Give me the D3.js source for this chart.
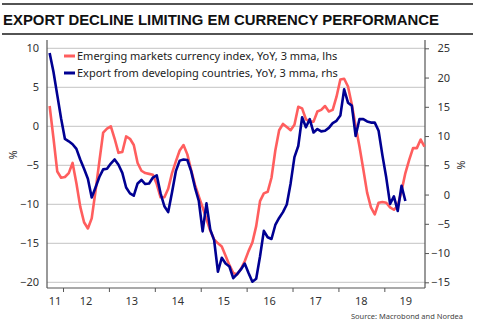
<!DOCTYPE html>
<html lang="en">
<head>
<meta charset="UTF-8">
<title>Export decline limiting EM currency performance</title>
<script src="https://d3js.org/d3.v7.min.js"></script>
<style>
  body { margin: 0; background: #fff; }
  svg text { font-family: "Noto Sans", "DejaVu Sans", sans-serif; }
</style>
</head>
<body>
<script>
    const width = 479;
    const height = 330;

    // monthly series, both start in Sep 2011
    const startYear = 2011, startMonth = 8;

    // Emerging markets currency index, YoY %, 3 mma (lhs), Sep 2011 - Nov 2019
    const emCurrency = [
        2.6, -1.5, -5.8, -6.6,
        -6.5, -6.0, -4.7, -7.3, -10.3, -12.3, -13.1, -11.8, -8.3, -4.5, -0.8, -0.3,
        0.0, -1.6, -3.4, -3.3, -1.3, -1.6, -2.4, -4.7, -5.7, -6.0, -6.1, -6.2,
        -7.4, -9.1, -9.1, -8.0, -6.0, -4.5, -3.1, -2.4, -3.6, -5.6, -7.5, -9.0,
        -10.4, -11.9, -13.4, -14.5, -15.0, -15.4, -16.6, -17.8, -18.8, -19.0, -18.3, -17.3,
        -16.0, -14.9, -12.8, -9.6, -8.6, -8.4, -6.6, -3.1, -0.5, 0.3, -0.1, -0.5,
        0.2, 2.5, 2.3, 0.9, 0.6, 0.6, 1.9, 2.1, 2.6, 1.9, 2.1, 3.8,
        6.0, 6.1, 5.1, 2.8, 0.0, -2.6, -5.5, -8.5, -10.4, -11.3, -9.8, -9.7,
        -9.8, -10.4, -10.7, -10.2, -8.3, -6.0, -4.3, -2.8, -2.8, -1.7, -2.6
    ];

    // Export from developing countries, YoY %, 3 mma (rhs), Sep 2011 - Jun 2019
    const exportsDev = [
        24.2, 21.0, 17.0, 13.0,
        9.5, 9.1, 8.6, 7.8, 6.0, 4.4, 2.7, -0.5, 1.2, 3.0, 4.3, 4.4,
        5.3, 6.0, 5.1, 3.7, 1.2, 0.2, -0.2, 1.9, 2.5, 1.8, 1.9, 2.9,
        3.3, 0.2, -2.0, -3.0, 0.4, 4.0, 5.8, 6.0, 5.9, 4.0, 1.2, -1.1,
        -6.3, -1.5, -6.0, -7.8, -13.2, -10.8, -11.8, -12.3, -14.3, -13.6, -12.8, -11.8,
        -13.4, -14.9, -14.4, -10.6, -6.2, -7.3, -7.6, -5.2, -4.0, -3.0, -1.7, 1.9,
        6.4, 8.3, 13.2, 11.5, 12.9, 10.6, 11.2, 10.8, 10.9, 11.4, 12.2, 12.6,
        13.5, 18.0, 15.7, 15.2, 10.0, 12.9, 12.9, 12.5, 12.3, 12.3, 10.9, 6.7,
        2.9, -1.6, -0.3, -2.8, 1.5, -1.1
    ];

    const years = d3.range(2011, 2020);
    const yearLabels = years.map(y => String(y).slice(2));
    const lhsTicks = [-20, -15, -10, -5, 0, 5, 10];
    const rhsTicks = [-15, -10, -5, 0, 5, 10, 15, 20, 25];
    const legendLabels = [
        "Emerging markets currency index, YoY, 3 mma, lhs",
        "Export from developing countries, YoY, 3 mma, rhs"
    ];
    const colors = ["#ff5e5e", "#000092"];

    const plot = {left: 47, right: 425, top: 48.3, bottom: 282.3, axisTop: 40, axisBottom: 288};

    const svg = d3.select("body").append("svg")
            .attr("width", width).attr("height", height);

    // scales: x in decimal years, two independent y scales
    const x = d3.scaleLinear().domain([2011.651, 2019.886]).range([plot.left, plot.right]);
    const yL = d3.scaleLinear().domain([-20, 10]).range([plot.bottom, plot.top]);
    const yR = d3.scaleLinear().domain([-15, 25]).range([plot.bottom, plot.top]);

    const monthTime = i => startYear + (startMonth + i + 0.5) / 12;

    // title with rules above and below
    svg.append("line").attr("x1", 2).attr("x2", 473).attr("y1", 4).attr("y2", 4)
            .style("stroke", "#1a1a1a").style("stroke-width", 1.6);
    svg.append("line").attr("x1", 2).attr("x2", 473).attr("y1", 34).attr("y2", 34)
            .style("stroke", "#1a1a1a").style("stroke-width", 1.6);
    svg.append("text")
            .attr("x", 3).attr("y", 25)
            .attr("textLength", 436).attr("lengthAdjust", "spacingAndGlyphs")
            .style("font-family", "'Liberation Sans', Arial, sans-serif")
            .style("font-weight", "bold").style("font-size", "15px")
            .style("fill", "#111")
            .text("EXPORT DECLINE LIMITING EM CURRENCY PERFORMANCE");

    // horizontal grid on the lhs ticks
    svg.append("g").attr("class", "grid")
            .selectAll("line").data(lhsTicks).enter().append("line")
            .attr("x1", plot.left).attr("x2", plot.right)
            .attr("y1", d => yL(d)).attr("y2", d => yL(d))
            .style("stroke", "#c4c4c4").style("stroke-width", 1);

    // left axis
    const gL = svg.append("g").attr("transform", `translate(${plot.left},0)`)
            .call(d3.axisLeft(yL).tickValues(lhsTicks).tickSize(0).tickPadding(8));
    gL.select(".domain").remove();
    gL.selectAll("text").style("font-size", "11px").style("fill", "#333")
            .style("font-family", "'Noto Sans', sans-serif");

    // right axis, labels right-aligned
    const gR = svg.append("g").attr("transform", `translate(${plot.right},0)`)
            .call(d3.axisRight(yR).tickValues(rhsTicks).tickSize(4));
    gR.select(".domain").remove();
    gR.selectAll(".tick line").style("stroke", "#555");
    gR.selectAll("text").attr("x", 25).attr("text-anchor", "end")
            .style("font-size", "11px").style("fill", "#333")
            .style("font-family", "'Noto Sans', sans-serif");

    // bottom axis: ticks on year starts, labels in the middle of each year
    const gX = svg.append("g").attr("transform", `translate(0,${plot.axisBottom})`)
            .call(d3.axisBottom(x).tickValues(years.slice(1)).tickSize(4).tickFormat(""));
    gX.select(".domain").remove();
    gX.selectAll(".tick line").style("stroke", "#555");

    const [d0, d1] = x.domain();
    svg.append("g").selectAll("text").data(years).enter().append("text")
            .attr("x", (d, i) => {
                const a = Math.max(d, d0), b = Math.min(d + 1, d1 + 0.05);
                return x((a + b) / 2);
            })
            .attr("y", 305)
            .attr("text-anchor", "middle")
            .style("font-size", "11px").style("fill", "#333")
            .text((d, i) => yearLabels[i]);

    // frame lines
    svg.append("line").attr("x1", plot.left).attr("x2", plot.left)
            .attr("y1", plot.axisTop).attr("y2", plot.axisBottom)
            .style("stroke", "#555").style("stroke-width", 1.2);
    svg.append("line").attr("x1", plot.right).attr("x2", plot.right)
            .attr("y1", plot.axisTop).attr("y2", plot.axisBottom)
            .style("stroke", "#555").style("stroke-width", 1.2);
    svg.append("line").attr("x1", plot.left).attr("x2", plot.right)
            .attr("y1", plot.axisBottom).attr("y2", plot.axisBottom)
            .style("stroke", "#555").style("stroke-width", 1.2);

    // axis unit labels
    svg.append("text").attr("transform", "translate(17,155) rotate(-90)")
            .attr("text-anchor", "middle").style("font-size", "11px").style("fill", "#333")
            .text("%");
    svg.append("text").attr("transform", "translate(457,165) rotate(90)")
            .attr("text-anchor", "middle").style("font-size", "11px").style("fill", "#333")
            .text("%");

    // series
    const lineL = d3.line().x((d, i) => x(monthTime(i))).y(d => yL(d));
    const lineR = d3.line().x((d, i) => x(monthTime(i))).y(d => yR(d));

    svg.append("path").datum(emCurrency)
            .attr("d", lineL)
            .style("fill", "none").style("stroke", colors[0])
            .style("stroke-width", 2.6).style("stroke-linejoin", "round");
    svg.append("path").datum(exportsDev)
            .attr("d", lineR)
            .style("fill", "none").style("stroke", colors[1])
            .style("stroke-width", 2.6).style("stroke-linejoin", "round");

    // legend
    const legend = svg.append("g").selectAll("g").data(legendLabels).enter().append("g")
            .attr("transform", (d, i) => `translate(64,${56 + i * 17})`);
    legend.append("line").attr("x1", 0).attr("x2", 11).attr("y1", 0).attr("y2", 0)
            .style("stroke", (d, i) => colors[i]).style("stroke-width", 3);
    legend.append("text").attr("x", 13).attr("y", 4)
            .style("font-size", "11px").style("fill", "#222")
            .text(d => d);

    // source
    svg.append("text").attr("x", 463).attr("y", 319).attr("text-anchor", "end")
            .style("font-size", "7.5px").style("fill", "#444")
            .text("Source: Macrobond and Nordea");
</script>
</body>
</html>
